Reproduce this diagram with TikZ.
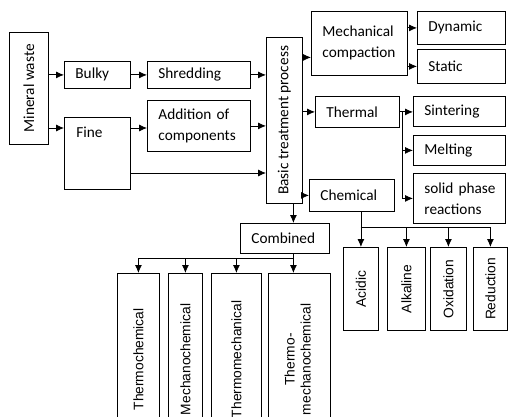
\documentclass[tikz,border=0pt]{standalone}
\usepackage{fontspec}
\setmainfont{Carlito}
\newfontfamily\arialf{Liberation Sans}
\usepackage{graphicx}
\usetikzlibrary{arrows.meta}

\begin{document}
\begin{tikzpicture}[x=1pt, y=-1pt, line width=0.8pt, font=\fontsize{15.3}{21}\selectfont]
\tikzset{boite/.style 2 args={draw, anchor=north west, text width=#1, minimum height=#2, inner xsep=11pt, inner ysep=0pt, align=left},
  boiteV/.style 2 args={draw, anchor=north west, minimum width=#1, minimum height=#2, inner sep=0pt},
  arial/.style={font=\arialf\fontsize{13.8}{16}\selectfont},
  fleche/.style={-{Latex[length=8pt,width=7pt]}}}
\useasboundingbox (0,0) rectangle (508,417);
\clip (0,0) rectangle (508,417);
\node[boiteV={39pt}{112pt}] (mineral) at (9,32) {\rotatebox{90}{Mineral waste}};
\node[boite={44pt}{27pt}] (bulky) at (64,61) {Bulky};
\node[boite={81pt}{27pt}] (shred) at (147,61) {Shredding};
\node[boite={44pt}{72pt}] (fine) at (64,117) {};
\node[anchor=west, inner sep=0pt] (finetxt) at (76,132) {Fine};
\node[boite={81pt}{51pt}] (addcomp) at (147,100) {Addition~of\\components};
\node[boiteV={36pt}{166pt}] (basic) at (266,37) {\rotatebox{90}{Basic treatment process}};
\node[boite={74pt}{64pt}] (mech) at (311,11) {Mechanical\\compaction};
\node[boite={66pt}{33pt}] (dynamic) at (417,11) {Dynamic};
\node[boite={66pt}{34pt}] (static) at (417,49) {Static};
\node[boite={62pt}{31pt}] (thermal) at (315,96) {Thermal};
\node[boite={70pt}{30pt}] (sinter) at (413,96) {Sintering};
\node[boite={70pt}{30pt}] (melt) at (413,135) {Melting};
\node[boite={70pt}{50pt}] (solid) at (413,173) {solid~phase\\reactions};
\node[boite={63pt}{32pt}] (chem) at (309,179) {Chemical};
\node[boite={67pt}{30pt}] (combined) at (240,223) {Combined};
\node[boiteV={42pt}{172pt}, arial] (thermochem) at (117,273) {\rotatebox{90}{Thermochemical}};
\node[boiteV={34pt}{172pt}, arial] (mechanochem) at (168,273) {\rotatebox{90}{Mechanochemical}};
\node[boiteV={50pt}{172pt}, arial] (thermomech) at (211,273) {\rotatebox{90}{Thermomechanical}};
\node[boiteV={62pt}{172pt}, arial] (thermomechano) at (268,273) {\rotatebox{90}{\begin{tabular}{@{}c@{}}Thermo-\\mechanochemical\end{tabular}}};
\node[boiteV={35pt}{83pt}, arial] (acidic) at (343,247) {\rotatebox{90}{Acidic}};
\node[boiteV={38pt}{83pt}, arial] (alkaline) at (387,247) {\rotatebox{90}{Alkaline}};
\node[boiteV={36pt}{83pt}, arial] (oxid) at (430,247) {\rotatebox{90}{Oxidation}};
\node[boiteV={34pt}{83pt}, arial] (reduct) at (473,247) {\rotatebox{90}{Reduction}};
\coordinate (fineA) at (130,128);
\coordinate (fineB) at (130,173);
\draw[fleche] (mineral.east |- bulky.west) -- (bulky.west);
\draw[fleche] (mineral.east |- fineA) -- (fine.west |- fineA);
\draw[fleche] (bulky) -- (shred);
\draw[fleche] (fineA) -- (fineA -| addcomp.west);
\draw[fleche] (shred.east) -- (shred.east -| basic.west);
\draw[fleche] (addcomp.east) -- (addcomp.east -| basic.west);
\draw[fleche] (fineB) -- (fineB -| basic.west);
\draw[fleche] ([yshift=-14pt]mech.west -| basic.east) -- ([yshift=-14pt]mech.west);
\draw[fleche] (mech.east |- dynamic.west) -- (dynamic.west);
\draw[fleche] (mech.east |- static.west) -- (static.west);
\draw[fleche] (basic.east |- thermal.west) -- (thermal.west);
\draw[fleche] (basic.east |- chem.west) -- (chem.west);
\draw[fleche] ([xshift=8.5pt]combined.north |- basic.south) -- ([xshift=8.5pt]combined.north);
\draw[fleche] (thermal.east) -- (thermal.east -| sinter.west);
\foreach \b in {melt, solid} \draw[fleche] ([xshift=3pt]thermal.east) |- (\b.west);
\draw[fleche] (chem.south -| acidic.north) -- (acidic.north);
\foreach \b in {alkaline, oxid, reduct} \draw[fleche] ([yshift=20pt]acidic.north) -| (\b.north);
\draw[fleche] ([xshift=8.5pt]combined.south) -- ([xshift=8.5pt]combined.south |- thermomechano.north);
\foreach \b in {thermochem, mechanochem, thermomech} \draw[fleche] ([xshift=8.5pt, yshift=-5pt]combined.south) -| (\b.north);
\end{tikzpicture}
\end{document}
